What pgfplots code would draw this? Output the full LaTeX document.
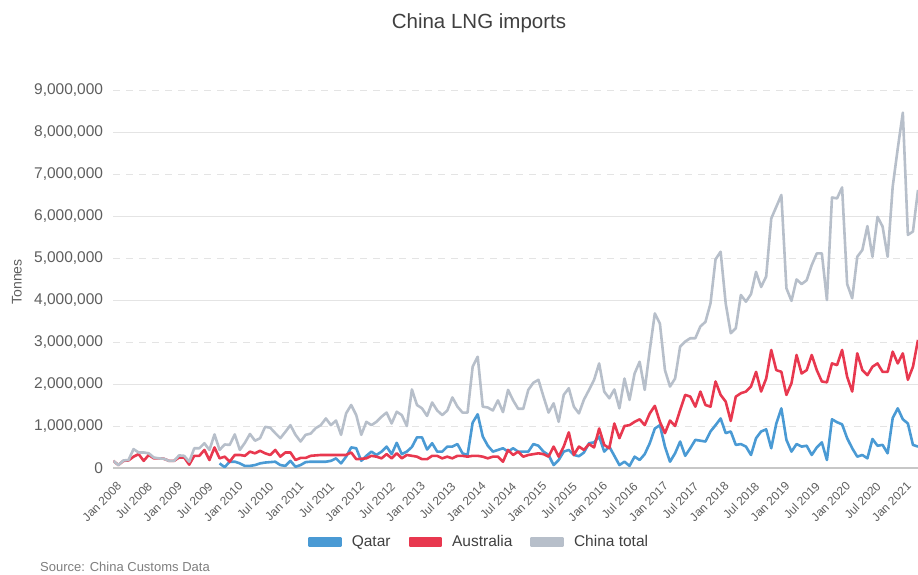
\documentclass[border=0pt]{standalone}
\usepackage{fontspec}
\setmainfont{Liberation Sans}
\usepackage{pgfplots}
\pgfplotsset{compat=1.18}
\usepackage{pgfplotstable}
\definecolor{qatar}{HTML}{4A9AD4}
\definecolor{austr}{HTML}{E8384F}
\definecolor{total}{HTML}{B7BFCA}
\definecolor{ticktxt}{HTML}{5E5E5E}
\definecolor{gridc}{HTML}{E4E4E4}
\definecolor{titlec}{HTML}{404040}
\pgfplotstableread{
m Q A T
0 nan 170000 170000
1 nan 70000 70000
2 nan 170000 180000
3 nan 180000 190000
4 nan 270000 450000
5 nan 330000 370000
6 nan 170000 370000
7 nan 310000 350000
8 nan 230000 250000
9 nan 230000 230000
10 nan 220000 220000
11 nan 170000 170000
12 nan 170000 170000
13 nan 250000 300000
14 nan 250000 290000
15 nan 80000 150000
16 nan 290000 470000
17 nan 290000 470000
18 nan 430000 590000
19 nan 190000 430000
20 nan 490000 800000
21 110000 230000 430000
22 20000 270000 560000
23 150000 150000 550000
24 150000 310000 800000
25 110000 310000 430000
26 50000 290000 600000
27 50000 390000 810000
28 70000 350000 650000
29 110000 410000 710000
30 130000 350000 980000
31 140000 310000 960000
32 150000 430000 830000
33 70000 270000 710000
34 50000 370000 860000
35 170000 370000 1020000
36 30000 190000 790000
37 70000 240000 630000
38 140000 240000 790000
39 150000 290000 820000
40 150000 300000 950000
41 150000 310000 1020000
42 150000 310000 1180000
43 170000 310000 1020000
44 230000 310000 1130000
45 110000 310000 790000
46 270000 310000 1300000
47 490000 370000 1500000
48 470000 210000 1260000
49 170000 220000 790000
50 290000 230000 1100000
51 390000 290000 1020000
52 310000 270000 1100000
53 390000 230000 1220000
54 510000 330000 1320000
55 330000 230000 1060000
56 600000 350000 1340000
57 330000 230000 1260000
58 390000 310000 1000000
59 500000 290000 1870000
60 730000 270000 1500000
61 730000 210000 1420000
62 440000 210000 1240000
63 590000 290000 1560000
64 390000 290000 1370000
65 390000 230000 1260000
66 510000 270000 1370000
67 510000 230000 1680000
68 570000 290000 1460000
69 350000 290000 1320000
70 310000 270000 1320000
71 1080000 290000 2410000
72 1280000 290000 2650000
73 750000 270000 1460000
74 530000 230000 1440000
75 390000 270000 1370000
76 430000 270000 1610000
77 470000 150000 1330000
78 390000 430000 1860000
79 470000 310000 1610000
80 390000 390000 1410000
81 390000 270000 1410000
82 390000 310000 1860000
83 570000 330000 2030000
84 530000 350000 2100000
85 390000 330000 1700000
86 310000 270000 1320000
87 70000 510000 1540000
88 190000 270000 1100000
89 390000 510000 1740000
90 430000 850000 1900000
91 310000 310000 1460000
92 280000 510000 1300000
93 370000 430000 1630000
94 590000 570000 1860000
95 610000 490000 2100000
96 750000 940000 2490000
97 390000 550000 1820000
98 510000 470000 1660000
99 290000 1060000 1870000
100 70000 710000 1420000
101 150000 1000000 2130000
102 50000 1020000 1620000
103 270000 1100000 2250000
104 190000 1160000 2530000
105 330000 1020000 1860000
106 590000 1300000 2810000
107 940000 1480000 3680000
108 1020000 1100000 3440000
109 510000 830000 2330000
110 150000 1130000 1940000
111 350000 1000000 2130000
112 630000 1380000 2890000
113 290000 1740000 3010000
114 470000 1700000 3090000
115 670000 1460000 3090000
116 650000 1820000 3370000
117 630000 1500000 3480000
118 870000 1460000 3920000
119 1020000 2060000 4970000
120 1180000 1740000 5150000
121 830000 1580000 3920000
122 870000 1120000 3210000
123 550000 1700000 3330000
124 570000 1780000 4120000
125 510000 1820000 3960000
126 310000 1940000 4140000
127 710000 2290000 4670000
128 870000 1820000 4310000
129 920000 2130000 4560000
130 470000 2810000 5940000
131 1060000 2330000 6220000
132 1420000 2290000 6500000
133 670000 1740000 4280000
134 390000 2020000 3980000
135 570000 2690000 4490000
136 510000 2250000 4380000
137 530000 2330000 4470000
138 310000 2690000 4830000
139 490000 2330000 5110000
140 610000 2060000 5110000
141 190000 2040000 4000000
142 1160000 2490000 6440000
143 1090000 2450000 6420000
144 1040000 2810000 6680000
145 710000 2170000 4380000
146 470000 1820000 4040000
147 270000 2730000 5030000
148 310000 2330000 5190000
149 230000 2210000 5760000
150 690000 2410000 5030000
151 530000 2490000 5980000
152 550000 2290000 5750000
153 350000 2290000 5030000
154 1190000 2770000 6700000
155 1420000 2490000 7610000
156 1160000 2730000 8460000
157 1060000 2100000 5550000
158 550000 2410000 5630000
159 510000 3050000 6620000
}\lng
\pgfkeys{/pgf/number format/.cd, fixed, 1000 sep={,}, assume math mode=true}
\begin{document}
\begin{tikzpicture}
\path[use as bounding box] (0pt,0pt) rectangle (918pt,574pt);
\node[font=\fontsize{20.5}{24}\selectfont, text=titlec] at (479pt,551pt) {China LNG imports};
\node[font=\fontsize{14}{16}\selectfont, text=ticktxt, rotate=90] at (17pt,292pt) {Tonnes};
\node[font=\fontsize{13}{15}\selectfont, text=ticktxt!80, anchor=west, inner sep=0pt] at (40pt,7pt) {Source: China Customs Data};
\begin{axis}[
  at={(113.3pt,106pt)}, anchor=south west,
  scale only axis, width=804.7pt, height=378pt,
  xmin=0, xmax=159, ymin=0, ymax=9000000,
  axis x line*=bottom, axis y line*=left,
  x axis line style={draw=black!22, line width=1.2pt},
  y axis line style={draw=none},
  major tick length=0pt,
  scaled y ticks=false,
  ytick={0,2000000,4000000,6000000,8000000},
  extra y ticks={1000000,3000000,5000000,7000000,9000000},
  extra y tick style={grid style={draw=gridc, line width=0.9pt, dash pattern=on 7pt off 6pt}},
  ymajorgrids,
  grid style={draw=gridc, line width=0.9pt},
  yticklabel style={font=\fontsize{15.5}{18}\selectfont, text=ticktxt, inner sep=0pt, xshift=-10pt},
  xtick={0,6,...,156},
  xticklabels={Jan 2008,Jul 2008,Jan 2009,Jul 2009,Jan 2010,Jul 2010,Jan 2011,Jul 2011,Jan 2012,Jul 2012,Jan 2013,Jul 2013,Jan 2014,Jul 2014,Jan 2015,Jul 2015,Jan 2016,Jul 2016,Jan 2017,Jul 2017,Jan 2018,Jul 2018,Jan 2019,Jul 2019,Jan 2020,Jul 2020,Jan 2021},
  xticklabel style={font=\fontsize{12}{14}\selectfont, text=ticktxt, inner sep=0pt, xshift=3pt, yshift=-13pt, rotate=45, anchor=north east},
  unbounded coords=jump,
  every axis plot/.append style={line width=2.6pt, line join=round, mark=none},
  legend columns=3,
  legend style={at={(axis description cs:0.4534,-0.1958)}, anchor=center, draw=none, fill=none,
    font=\fontsize{15.5}{18}\selectfont, text=titlec, inner sep=0pt, nodes={inner sep=0pt},
    /tikz/every odd column/.append style={column sep=10pt},
    /tikz/every even column/.append style={column sep=18pt}},
  legend image code/.code={\fill[#1] (0pt,-4pt) rectangle (31pt,4pt);},
]
\addplot[color=qatar] table[x=m, y=Q] {\lng};
\addlegendentry{Qatar}
\addplot[color=austr] table[x=m, y=A] {\lng};
\addlegendentry{Australia}
\addplot[color=total] table[x=m, y=T] {\lng};
\addlegendentry{China total}
\end{axis}
\end{tikzpicture}
\end{document}
